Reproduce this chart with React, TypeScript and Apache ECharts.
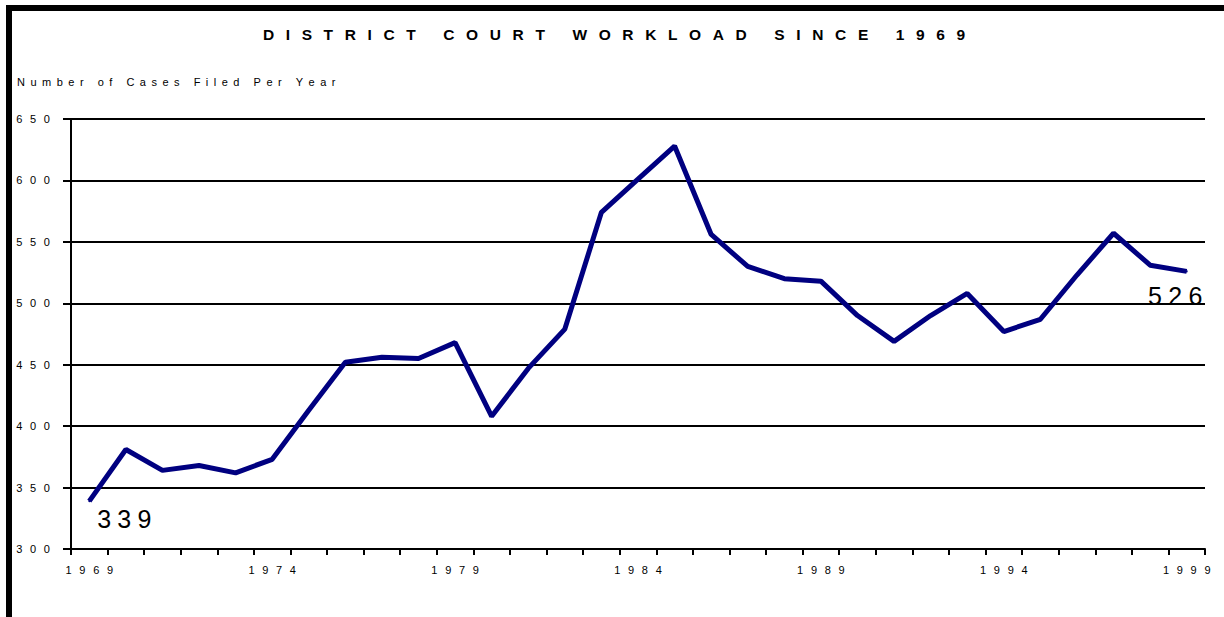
import React, { useEffect, useRef } from "react";
import * as echarts from "echarts";

const TITLE = "DISTRICT COURT WORKLOAD SINCE 1969";
const Y_NAME = "Number of Cases Filed Per Year";
const YEARS = [
  "1969", "1970", "1971", "1972", "1973", "1974", "1975", "1976", "1977", "1978",
  "1979", "1980", "1981", "1982", "1983", "1984", "1985", "1986", "1987", "1988",
  "1989", "1990", "1991", "1992", "1993", "1994", "1995", "1996", "1997", "1998", "1999",
];
const CASES = [
  339, 381, 364, 368, 362, 373, 413, 452, 456, 455,
  468, 408, 447, 479, 574, 601, 628, 556, 530, 520,
  518, 490, 469, 490, 508, 477, 487, 523, 557, 531, 526,
];
const Y_MIN = 300;
const Y_MAX = 650;
const Y_STEP = 50;

const FONT = "'Liberation Sans', Arial, sans-serif";
const spaced = (s: string, sep: string) => s.split("").join(sep);

export default function App() {
  const ref = useRef<HTMLDivElement>(null);
  useEffect(() => {
    if (!ref.current) return;
    const chart = echarts.init(ref.current, null, { renderer: "svg" });
    const lastIdx = CASES.length - 1;
    const data = CASES.map((v, i) => {
      if (i === 0) {
        return { value: v, label: { show: true, position: [36, 19] } };
      }
      if (i === lastIdx) {
        return { value: v, label: { show: true, position: [-10.5, 25.5] } };
      }
      return v;
    });
    chart.setOption({
      animation: false,
      backgroundColor: "#fff",
      title: {
        text: spaced(TITLE, "\u2002\u2005"),
        left: 609,
        textAlign: "center",
        top: 21,
        textStyle: { fontFamily: FONT, fontSize: 15.5, fontWeight: "bold", color: "#000" },
      },
      graphic: [
        { type: "rect", shape: { x: 6, y: 5, width: 1218, height: 6 }, style: { fill: "#000" } },
        { type: "rect", shape: { x: 6, y: 5, width: 6, height: 612 }, style: { fill: "#000" } },
        {
          type: "text",
          x: 17,
          y: 82,
          style: {
            text: spaced(Y_NAME, "\u2002"),
            fontFamily: FONT,
            fontSize: 11,
            fill: "#000",
            textVerticalAlign: "middle",
            verticalAlign: "middle",
          },
        },
      ],
      grid: { left: 71, right: 19, top: 119, bottom: 68, containLabel: false },
      xAxis: {
        type: "category",
        data: YEARS,
        boundaryGap: true,
        axisLine: { lineStyle: { color: "#000", width: 2 } },
        axisTick: { show: true, interval: 0, length: 6, lineStyle: { color: "#000", width: 2 } },
        axisLabel: {
          interval: 4,
          margin: 15,
          fontFamily: FONT,
          fontSize: 11,
          color: "#000",
          formatter: (v: string) => spaced(v, "\u2002\u2009"),
        },
        splitLine: { show: false },
      },
      yAxis: {
        type: "value",
        min: Y_MIN,
        max: Y_MAX,
        interval: Y_STEP,
        axisLine: { show: true, lineStyle: { color: "#000", width: 2 } },
        axisTick: { show: true, length: 8, lineStyle: { color: "#000", width: 2 } },
        axisLabel: {
          margin: 21,
          fontFamily: FONT,
          fontSize: 11,
          color: "#000",
          formatter: (v: number) => spaced(String(v), "\u2002\u2009"),
        },
        splitLine: { show: true, lineStyle: { color: "#000", width: 2 } },
      },
      series: [
        {
          type: "line",
          data,
          showSymbol: true,
          symbol: "circle",
          symbolSize: 2,
          itemStyle: { color: "#000080" },
          lineStyle: { color: "#000080", width: 5 },
          label: {
            show: false,
            align: "center",
            verticalAlign: "middle",
            fontFamily: FONT,
            fontSize: 25,
            color: "#000",
            formatter: (p: any) => spaced(String(p.value), "\u2005"),
          },
          silent: true,
        },
      ],
    });
    return () => chart.dispose();
  }, []);
  return (
    <div
      ref={ref}
      style={{ position: "absolute", left: 0, top: 0, width: 1224, height: 617 }}
    />
  );
}
